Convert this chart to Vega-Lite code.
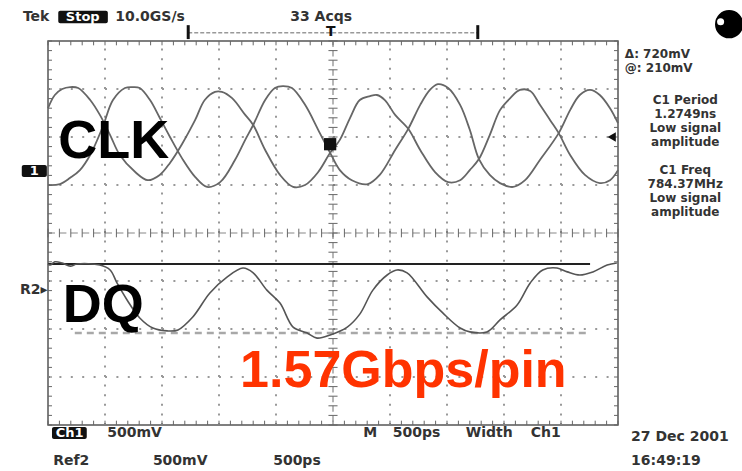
{
  "$schema": "https://vega.github.io/schema/vega-lite/v6.json",
  "width": 570,
  "height": 384,
  "autosize": {"type": "none"},
  "padding": {"left": 48, "top": 41, "right": 124, "bottom": 46},
  "background": "white",
  "config": {
    "view": {"stroke": "#555", "strokeWidth": 1.5},
    "axis": {"disable": true},
    "text": {"font": "DejaVu Sans"}
  },
  "datasets": {
    "clk": [
      {"s":"A","x":-5.0,"y":2.60},{"s":"A","x":-4.88,"y":2.875},{"s":"A","x":-4.75,"y":3.0},{"s":"A","x":-4.61,"y":3.04},{"s":"A","x":-4.47,"y":3.02},{"s":"A","x":-4.26,"y":2.77},{"s":"A","x":-4.09,"y":2.46},{"s":"A","x":-3.91,"y":2.04},{"s":"A","x":-3.74,"y":1.625},{"s":"A","x":-3.47,"y":1.27},{"s":"A","x":-3.25,"y":1.10},{"s":"A","x":-3.04,"y":1.21},{"s":"A","x":-2.86,"y":1.46},{"s":"A","x":-2.65,"y":1.85},{"s":"A","x":-2.42,"y":2.35},{"s":"A","x":-2.25,"y":2.77},{"s":"A","x":-2.07,"y":2.94},{"s":"A","x":-1.95,"y":2.94},{"s":"A","x":-1.77,"y":2.81},{"s":"A","x":-1.54,"y":2.46},{"s":"A","x":-1.40,"y":2.25},{"s":"A","x":-1.19,"y":1.73},{"s":"A","x":-0.93,"y":1.21},{"s":"A","x":-0.70,"y":0.96},{"s":"A","x":-0.49,"y":1.0},{"s":"A","x":-0.26,"y":1.27},{"s":"A","x":-0.05,"y":1.67},{"s":"A","x":0.12,"y":1.94},{"s":"A","x":0.30,"y":2.40},{"s":"A","x":0.47,"y":2.77},{"s":"A","x":0.65,"y":2.85},{"s":"A","x":0.77,"y":2.875},{"s":"A","x":0.91,"y":2.77},{"s":"A","x":1.09,"y":2.46},{"s":"A","x":1.32,"y":2.17},{"s":"A","x":1.53,"y":1.73},{"s":"A","x":1.79,"y":1.27},{"s":"A","x":2.02,"y":1.06},{"s":"A","x":2.23,"y":1.10},{"s":"A","x":2.40,"y":1.31},{"s":"A","x":2.56,"y":1.54},{"s":"A","x":2.75,"y":2.04},{"s":"A","x":2.93,"y":2.56},{"s":"A","x":3.11,"y":2.81},{"s":"A","x":3.28,"y":2.98},{"s":"A","x":3.46,"y":2.96},{"s":"A","x":3.63,"y":2.67},{"s":"A","x":3.81,"y":2.35},{"s":"A","x":3.96,"y":2.08},{"s":"A","x":4.16,"y":1.625},{"s":"A","x":4.42,"y":1.21},{"s":"A","x":4.68,"y":1.04},{"s":"A","x":4.86,"y":1.10},{"s":"A","x":5.0,"y":1.31},
      {"s":"B","x":-5.0,"y":1.0},{"s":"B","x":-4.79,"y":1.02},{"s":"B","x":-4.61,"y":1.15},{"s":"B","x":-4.44,"y":1.31},{"s":"B","x":-4.26,"y":1.625},{"s":"B","x":-4.04,"y":2.21},{"s":"B","x":-3.86,"y":2.77},{"s":"B","x":-3.65,"y":3.02},{"s":"B","x":-3.51,"y":3.04},{"s":"B","x":-3.39,"y":3.02},{"s":"B","x":-3.21,"y":2.77},{"s":"B","x":-3.04,"y":2.40},{"s":"B","x":-2.86,"y":2.0},{"s":"B","x":-2.65,"y":1.56},{"s":"B","x":-2.42,"y":1.17},{"s":"B","x":-2.21,"y":0.96},{"s":"B","x":-1.98,"y":1.06},{"s":"B","x":-1.72,"y":1.52},{"s":"B","x":-1.54,"y":1.94},{"s":"B","x":-1.40,"y":2.25},{"s":"B","x":-1.19,"y":2.77},{"s":"B","x":-1.02,"y":3.02},{"s":"B","x":-0.88,"y":3.06},{"s":"B","x":-0.72,"y":3.02},{"s":"B","x":-0.49,"y":2.67},{"s":"B","x":-0.26,"y":2.15},{"s":"B","x":-0.05,"y":1.67},{"s":"B","x":0.12,"y":1.31},{"s":"B","x":0.33,"y":1.10},{"s":"B","x":0.61,"y":1.02},{"s":"B","x":0.82,"y":1.21},{"s":"B","x":1.09,"y":1.73},{"s":"B","x":1.32,"y":2.17},{"s":"B","x":1.53,"y":2.67},{"s":"B","x":1.70,"y":2.98},{"s":"B","x":1.84,"y":3.10},{"s":"B","x":2.02,"y":3.02},{"s":"B","x":2.23,"y":2.67},{"s":"B","x":2.40,"y":2.15},{"s":"B","x":2.56,"y":1.54},{"s":"B","x":2.75,"y":1.21},{"s":"B","x":2.93,"y":1.04},{"s":"B","x":3.16,"y":0.96},{"s":"B","x":3.37,"y":1.10},{"s":"B","x":3.63,"y":1.52},{"s":"B","x":3.96,"y":2.08},{"s":"B","x":4.16,"y":2.56},{"s":"B","x":4.33,"y":2.875},{"s":"B","x":4.51,"y":2.98},{"s":"B","x":4.68,"y":2.875},{"s":"B","x":4.86,"y":2.60},{"s":"B","x":5.0,"y":2.29}
    ],
    "dq": [
      {"x":-5.0,"y":-0.646},{"x":-4.96,"y":-0.667},{"x":-4.88,"y":-0.60},{"x":-4.75,"y":-0.625},{"x":-4.61,"y":-0.69},{"x":-4.49,"y":-0.646},{"x":-4.09,"y":-0.667},{"x":-3.91,"y":-0.77},{"x":-3.79,"y":-1.04},{"x":-3.61,"y":-1.40},{"x":-3.39,"y":-1.77},{"x":-3.16,"y":-1.98},{"x":-2.91,"y":-2.04},{"x":-2.72,"y":-2.02},{"x":-2.46,"y":-1.75},{"x":-2.16,"y":-1.25},{"x":-1.86,"y":-0.92},{"x":-1.58,"y":-0.73},{"x":-1.40,"y":-0.83},{"x":-1.16,"y":-1.19},{"x":-0.93,"y":-1.46},{"x":-0.70,"y":-1.96},{"x":-0.46,"y":-2.08},{"x":-0.28,"y":-2.19},{"x":-0.05,"y":-2.125},{"x":0.25,"y":-1.96},{"x":0.47,"y":-1.69},{"x":0.70,"y":-1.19},{"x":0.95,"y":-0.875},{"x":1.12,"y":-0.77},{"x":1.30,"y":-0.83},{"x":1.65,"y":-1.33},{"x":1.93,"y":-1.67},{"x":2.23,"y":-1.98},{"x":2.40,"y":-2.06},{"x":2.70,"y":-2.06},{"x":2.93,"y":-1.81},{"x":3.23,"y":-1.50},{"x":3.46,"y":-1.04},{"x":3.68,"y":-0.77},{"x":3.93,"y":-0.73},{"x":4.11,"y":-0.81},{"x":4.33,"y":-0.875},{"x":4.56,"y":-0.81},{"x":4.81,"y":-0.667},{"x":4.98,"y":-0.625}
    ],
    "xt": [
      {"x":-5,"y":[-0.09,3.91,-4],"y2":[0.09,4,-3.91]},{"x":-4.8,"y":[-0.09,3.91,-4],"y2":[0.09,4,-3.91]},{"x":-4.6,"y":[-0.09,3.91,-4],"y2":[0.09,4,-3.91]},{"x":-4.4,"y":[-0.09,3.91,-4],"y2":[0.09,4,-3.91]},{"x":-4.2,"y":[-0.09,3.91,-4],"y2":[0.09,4,-3.91]},
      {"x":-4,"y":[-0.09,3.91,-4],"y2":[0.09,4,-3.91]},{"x":-3.8,"y":[-0.09,3.91,-4],"y2":[0.09,4,-3.91]},{"x":-3.6,"y":[-0.09,3.91,-4],"y2":[0.09,4,-3.91]},{"x":-3.4,"y":[-0.09,3.91,-4],"y2":[0.09,4,-3.91]},{"x":-3.2,"y":[-0.09,3.91,-4],"y2":[0.09,4,-3.91]},
      {"x":-3,"y":[-0.09,3.91,-4],"y2":[0.09,4,-3.91]},{"x":-2.8,"y":[-0.09,3.91,-4],"y2":[0.09,4,-3.91]},{"x":-2.6,"y":[-0.09,3.91,-4],"y2":[0.09,4,-3.91]},{"x":-2.4,"y":[-0.09,3.91,-4],"y2":[0.09,4,-3.91]},{"x":-2.2,"y":[-0.09,3.91,-4],"y2":[0.09,4,-3.91]},
      {"x":-2,"y":[-0.09,3.91,-4],"y2":[0.09,4,-3.91]},{"x":-1.8,"y":[-0.09,3.91,-4],"y2":[0.09,4,-3.91]},{"x":-1.6,"y":[-0.09,3.91,-4],"y2":[0.09,4,-3.91]},{"x":-1.4,"y":[-0.09,3.91,-4],"y2":[0.09,4,-3.91]},{"x":-1.2,"y":[-0.09,3.91,-4],"y2":[0.09,4,-3.91]},
      {"x":-1,"y":[-0.09,3.91,-4],"y2":[0.09,4,-3.91]},{"x":-0.8,"y":[-0.09,3.91,-4],"y2":[0.09,4,-3.91]},{"x":-0.6,"y":[-0.09,3.91,-4],"y2":[0.09,4,-3.91]},{"x":-0.4,"y":[-0.09,3.91,-4],"y2":[0.09,4,-3.91]},{"x":-0.2,"y":[-0.09,3.91,-4],"y2":[0.09,4,-3.91]},
      {"x":0,"y":[-0.09,3.91,-4],"y2":[0.09,4,-3.91]},{"x":0.2,"y":[-0.09,3.91,-4],"y2":[0.09,4,-3.91]},{"x":0.4,"y":[-0.09,3.91,-4],"y2":[0.09,4,-3.91]},{"x":0.6,"y":[-0.09,3.91,-4],"y2":[0.09,4,-3.91]},{"x":0.8,"y":[-0.09,3.91,-4],"y2":[0.09,4,-3.91]},
      {"x":1,"y":[-0.09,3.91,-4],"y2":[0.09,4,-3.91]},{"x":1.2,"y":[-0.09,3.91,-4],"y2":[0.09,4,-3.91]},{"x":1.4,"y":[-0.09,3.91,-4],"y2":[0.09,4,-3.91]},{"x":1.6,"y":[-0.09,3.91,-4],"y2":[0.09,4,-3.91]},{"x":1.8,"y":[-0.09,3.91,-4],"y2":[0.09,4,-3.91]},
      {"x":2,"y":[-0.09,3.91,-4],"y2":[0.09,4,-3.91]},{"x":2.2,"y":[-0.09,3.91,-4],"y2":[0.09,4,-3.91]},{"x":2.4,"y":[-0.09,3.91,-4],"y2":[0.09,4,-3.91]},{"x":2.6,"y":[-0.09,3.91,-4],"y2":[0.09,4,-3.91]},{"x":2.8,"y":[-0.09,3.91,-4],"y2":[0.09,4,-3.91]},
      {"x":3,"y":[-0.09,3.91,-4],"y2":[0.09,4,-3.91]},{"x":3.2,"y":[-0.09,3.91,-4],"y2":[0.09,4,-3.91]},{"x":3.4,"y":[-0.09,3.91,-4],"y2":[0.09,4,-3.91]},{"x":3.6,"y":[-0.09,3.91,-4],"y2":[0.09,4,-3.91]},{"x":3.8,"y":[-0.09,3.91,-4],"y2":[0.09,4,-3.91]},
      {"x":4,"y":[-0.09,3.91,-4],"y2":[0.09,4,-3.91]},{"x":4.2,"y":[-0.09,3.91,-4],"y2":[0.09,4,-3.91]},{"x":4.4,"y":[-0.09,3.91,-4],"y2":[0.09,4,-3.91]},{"x":4.6,"y":[-0.09,3.91,-4],"y2":[0.09,4,-3.91]},{"x":4.8,"y":[-0.09,3.91,-4],"y2":[0.09,4,-3.91]},
      {"x":5,"y":[-0.09,3.91,-4],"y2":[0.09,4,-3.91]}
    ],
    "yt": [
      {"y":-4,"x":[-0.08,-5,4.93],"x2":[0.08,-4.93,5]},{"y":-3.8,"x":[-0.08,-5,4.93],"x2":[0.08,-4.93,5]},{"y":-3.6,"x":[-0.08,-5,4.93],"x2":[0.08,-4.93,5]},{"y":-3.4,"x":[-0.08,-5,4.93],"x2":[0.08,-4.93,5]},{"y":-3.2,"x":[-0.08,-5,4.93],"x2":[0.08,-4.93,5]},
      {"y":-3,"x":[-0.08,-5,4.93],"x2":[0.08,-4.93,5]},{"y":-2.8,"x":[-0.08,-5,4.93],"x2":[0.08,-4.93,5]},{"y":-2.6,"x":[-0.08,-5,4.93],"x2":[0.08,-4.93,5]},{"y":-2.4,"x":[-0.08,-5,4.93],"x2":[0.08,-4.93,5]},{"y":-2.2,"x":[-0.08,-5,4.93],"x2":[0.08,-4.93,5]},
      {"y":-2,"x":[-0.08,-5,4.93],"x2":[0.08,-4.93,5]},{"y":-1.8,"x":[-0.08,-5,4.93],"x2":[0.08,-4.93,5]},{"y":-1.6,"x":[-0.08,-5,4.93],"x2":[0.08,-4.93,5]},{"y":-1.4,"x":[-0.08,-5,4.93],"x2":[0.08,-4.93,5]},{"y":-1.2,"x":[-0.08,-5,4.93],"x2":[0.08,-4.93,5]},
      {"y":-1,"x":[-0.08,-5,4.93],"x2":[0.08,-4.93,5]},{"y":-0.8,"x":[-0.08,-5,4.93],"x2":[0.08,-4.93,5]},{"y":-0.6,"x":[-0.08,-5,4.93],"x2":[0.08,-4.93,5]},{"y":-0.4,"x":[-0.08,-5,4.93],"x2":[0.08,-4.93,5]},{"y":-0.2,"x":[-0.08,-5,4.93],"x2":[0.08,-4.93,5]},
      {"y":0,"x":[-0.08,-5,4.93],"x2":[0.08,-4.93,5]},{"y":0.2,"x":[-0.08,-5,4.93],"x2":[0.08,-4.93,5]},{"y":0.4,"x":[-0.08,-5,4.93],"x2":[0.08,-4.93,5]},{"y":0.6,"x":[-0.08,-5,4.93],"x2":[0.08,-4.93,5]},{"y":0.8,"x":[-0.08,-5,4.93],"x2":[0.08,-4.93,5]},
      {"y":1,"x":[-0.08,-5,4.93],"x2":[0.08,-4.93,5]},{"y":1.2,"x":[-0.08,-5,4.93],"x2":[0.08,-4.93,5]},{"y":1.4,"x":[-0.08,-5,4.93],"x2":[0.08,-4.93,5]},{"y":1.6,"x":[-0.08,-5,4.93],"x2":[0.08,-4.93,5]},{"y":1.8,"x":[-0.08,-5,4.93],"x2":[0.08,-4.93,5]},
      {"y":2,"x":[-0.08,-5,4.93],"x2":[0.08,-4.93,5]},{"y":2.2,"x":[-0.08,-5,4.93],"x2":[0.08,-4.93,5]},{"y":2.4,"x":[-0.08,-5,4.93],"x2":[0.08,-4.93,5]},{"y":2.6,"x":[-0.08,-5,4.93],"x2":[0.08,-4.93,5]},{"y":2.8,"x":[-0.08,-5,4.93],"x2":[0.08,-4.93,5]},
      {"y":3,"x":[-0.08,-5,4.93],"x2":[0.08,-4.93,5]},{"y":3.2,"x":[-0.08,-5,4.93],"x2":[0.08,-4.93,5]},{"y":3.4,"x":[-0.08,-5,4.93],"x2":[0.08,-4.93,5]},{"y":3.6,"x":[-0.08,-5,4.93],"x2":[0.08,-4.93,5]},{"y":3.8,"x":[-0.08,-5,4.93],"x2":[0.08,-4.93,5]},
      {"y":4,"x":[-0.08,-5,4.93],"x2":[0.08,-4.93,5]}
    ],
    "xg": [{"x":-4,"y":-4,"y2":4},{"x":-3,"y":-4,"y2":4},{"x":-2,"y":-4,"y2":4},{"x":-1,"y":-4,"y2":4},{"x":1,"y":-4,"y2":4},{"x":2,"y":-4,"y2":4},{"x":3,"y":-4,"y2":4},{"x":4,"y":-4,"y2":4}],
    "yg": [{"y":-3,"x":-5,"x2":5},{"y":-2,"x":-5,"x2":5},{"y":-1,"x":-5,"x2":5},{"y":1,"x":-5,"x2":5},{"y":2,"x":-5,"x2":5},{"y":3,"x":-5,"x2":5}],
    "xc": [{"x":0,"y":4,"y2":-4}],
    "yc": [{"y":0,"x":-5,"x2":5}],
    "refsolid": [{"x":-5,"x2":4.51,"y":-0.646}],
    "refdash": [{"x":-4.53,"x2":4.51,"y":-2.083}],
    "trigbar": [{"x":-2.54,"x2":2.54,"y":4.17}],
    "trigends": [{"x":-2.54,"y":4.04,"y2":4.33},{"x":2.54,"y":4.04,"y2":4.33}],
    "boxes": [
      {"x":-4.82,"x2":-3.95,"y":4.63,"y2":4.37},
      {"x":-4.93,"x2":-4.32,"y":-4.04,"y2":-4.29},
      {"x":-5.46,"x2":-5.02,"y":1.417,"y2":1.167}
    ],
    "whitetext": [
      {"x":-4.39,"y":4.5,"label":"Stop"},
      {"x":-4.62,"y":-4.17,"label":"Ch1"},
      {"x":-5.24,"y":1.29,"label":"1"}
    ],
    "scopetext": [
      {"x":-5.44,"y":4.5,"label":"Tek"},
      {"x":-3.82,"y":4.5,"label":"10.0GS/s"},
      {"x":-0.75,"y":4.5,"label":"33 Acqs"},
      {"x":-3.96,"y":-4.17,"label":"500mV"},
      {"x":0.53,"y":-4.17,"label":"M"},
      {"x":1.05,"y":-4.17,"label":"500ps"},
      {"x":2.33,"y":-4.17,"label":"Width"},
      {"x":3.47,"y":-4.17,"label":"Ch1"},
      {"x":5.23,"y":-4.25,"label":"27 Dec 2001"},
      {"x":-4.91,"y":-4.75,"label":"Ref2"},
      {"x":-3.16,"y":-4.75,"label":"500mV"},
      {"x":-1.05,"y":-4.75,"label":"500ps"},
      {"x":5.23,"y":-4.75,"label":"16:49:19"},
      {"x":-5.49,"y":-1.19,"label":"R2▸"}
    ],
    "deltatext": [
      {"x":5.12,"y":3.729,"label":"Δ: 720mV"},
      {"x":5.12,"y":3.4375,"label":"@: 210mV"}
    ],
    "paneltext": [
      {"x":6.18,"y":2.771,"label":"C1 Period"},
      {"x":6.18,"y":2.479,"label":"1.2749ns"},
      {"x":6.18,"y":2.1875,"label":"Low signal"},
      {"x":6.18,"y":1.896,"label":"amplitude"},
      {"x":6.18,"y":1.3125,"label":"C1 Freq"},
      {"x":6.18,"y":1.021,"label":"784.37MHz"},
      {"x":6.18,"y":0.729,"label":"Low signal"},
      {"x":6.18,"y":0.4375,"label":"amplitude"}
    ],
    "bigtext": [
      {"x":-4.82,"y":1.5625,"label":"CLK"},
      {"x":-4.74,"y":-1.85,"label":"DQ"}
    ],
    "redtext": [{"x":-1.63,"y":-3.21,"label":"1.57Gbps/pin"}]
  },
  "encoding": {
    "x": {"field": "x", "type": "quantitative", "scale": {"domain": [-5, 5], "nice": false, "zero": false}, "axis": null},
    "y": {"field": "y", "type": "quantitative", "scale": {"domain": [-4, 4], "nice": false, "zero": false}, "axis": null}
  },
  "layer": [
    {"data": {"name": "xg"}, "mark": {"type": "rule", "color": "#999", "strokeWidth": 2, "strokeDash": [2, 7.6]},
     "encoding": {"y2": {"field": "y2"}}},
    {"data": {"name": "yg"}, "mark": {"type": "rule", "color": "#999", "strokeWidth": 2, "strokeDash": [2, 9.4]},
     "encoding": {"x2": {"field": "x2"}}},
    {"data": {"name": "xc"}, "mark": {"type": "rule", "color": "#888", "strokeWidth": 1.2, "strokeDash": [6, 3.6]},
     "encoding": {"y2": {"field": "y2"}}},
    {"data": {"name": "yc"}, "mark": {"type": "rule", "color": "#888", "strokeWidth": 1.2, "strokeDash": [7, 4.4]},
     "encoding": {"x2": {"field": "x2"}}},
    {"data": {"name": "xt"}, "transform": [{"flatten": ["y", "y2"]}], "mark": {"type": "rule", "color": "#666", "strokeWidth": 1},
     "encoding": {"y2": {"field": "y2"}}},
    {"data": {"name": "yt"}, "transform": [{"flatten": ["x", "x2"]}], "mark": {"type": "rule", "color": "#666", "strokeWidth": 1},
     "encoding": {"x2": {"field": "x2"}}},
    {"data": {"name": "refdash"}, "mark": {"type": "rule", "color": "#a8a8a8", "strokeWidth": 2.5, "strokeDash": [7, 5]},
     "encoding": {"x2": {"field": "x2"}}},
    {"data": {"name": "refsolid"}, "mark": {"type": "rule", "color": "#222", "strokeWidth": 1.8},
     "encoding": {"x2": {"field": "x2"}}},
    {"data": {"name": "clk"}, "mark": {"type": "line", "color": "#666", "strokeWidth": 1.8, "interpolate": "catmull-rom"},
     "encoding": {"detail": {"field": "s"}, "order": {"field": "x", "type": "quantitative"}}},
    {"data": {"name": "dq"}, "mark": {"type": "line", "color": "#555", "strokeWidth": 1.6, "interpolate": "catmull-rom"},
     "encoding": {}},
    {"data": {"name": "trigbar"}, "mark": {"type": "rule", "color": "#999", "strokeWidth": 1.5, "strokeDash": [4, 2]},
     "encoding": {"x2": {"field": "x2"}}},
    {"data": {"name": "trigends"}, "mark": {"type": "rule", "color": "#111", "strokeWidth": 3},
     "encoding": {"y2": {"field": "y2"}}},
    {"data": {"values": [{"x": -0.04, "y": 4.19, "label": "T"}]}, "mark": {"type": "text", "fontSize": 14, "fontWeight": "bold", "color": "#111", "baseline": "middle", "align": "center"},
     "encoding": {"text": {"field": "label"}}},
    {"data": {"values": [{"x": -0.05, "y": 1.85}]}, "mark": {"type": "point", "shape": "square", "filled": true, "color": "#111", "size": 150, "opacity": 1},
     "encoding": {}},
    {"data": {"values": [{"x": 4.89, "y": 2.0}]}, "mark": {"type": "point", "shape": "triangle-left", "filled": true, "color": "#111", "size": 90, "opacity": 1},
     "encoding": {}},
    {"data": {"values": [{"x": 6.95, "y": 4.35}]}, "mark": {"type": "point", "shape": "circle", "filled": true, "color": "#000", "size": 800, "opacity": 1},
     "encoding": {}},
    {"data": {"values": [{"x": 6.8, "y": 4.4}]}, "mark": {"type": "point", "shape": "circle", "filled": true, "color": "#fff", "size": 50, "opacity": 1},
     "encoding": {}},
    {"data": {"name": "boxes"}, "mark": {"type": "rect", "color": "#111", "cornerRadius": 2},
     "encoding": {"x2": {"field": "x2"}, "y2": {"field": "y2"}}},
    {"data": {"name": "whitetext"}, "mark": {"type": "text", "fontSize": 13, "fontWeight": "bold", "color": "#fff", "baseline": "middle", "align": "center"},
     "encoding": {"text": {"field": "label"}}},
    {"data": {"name": "scopetext"}, "mark": {"type": "text", "fontSize": 14, "fontWeight": "bold", "color": "#333", "baseline": "middle", "align": "left"},
     "encoding": {"text": {"field": "label"}}},
    {"data": {"name": "deltatext"}, "mark": {"type": "text", "fontSize": 12, "fontWeight": "bold", "color": "#333", "baseline": "middle", "align": "left"},
     "encoding": {"text": {"field": "label"}}},
    {"data": {"name": "paneltext"}, "mark": {"type": "text", "fontSize": 12, "fontWeight": "bold", "color": "#333", "baseline": "middle", "align": "center"},
     "encoding": {"text": {"field": "label"}}},
    {"data": {"name": "bigtext"}, "mark": {"type": "text", "font": "Liberation Sans", "fontSize": 54, "fontWeight": "bold", "color": "#000", "baseline": "alphabetic", "align": "left"},
     "encoding": {"text": {"field": "label"}}},
    {"data": {"name": "redtext"}, "mark": {"type": "text", "font": "Liberation Sans", "fontSize": 52, "fontWeight": "bold", "color": "#ff3300", "baseline": "alphabetic", "align": "left"},
     "encoding": {"text": {"field": "label"}}}
  ]
}
